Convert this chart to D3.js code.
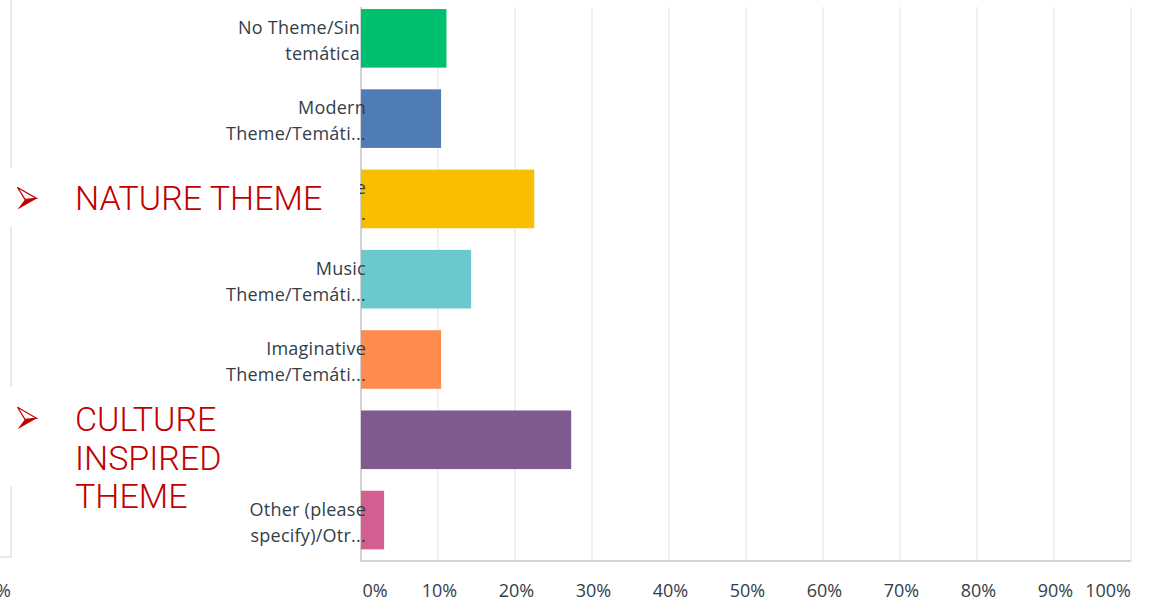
<!DOCTYPE html>
<html>
<head>
<meta charset="utf-8">
<script src="https://cdn.jsdelivr.net/npm/d3@7"></script>
<style>
  html, body { margin: 0; padding: 0; background: #ffffff; }
  svg { display: block; }
</style>
</head>
<body>
<svg id="chart" width="1150" height="600"></svg>
<script>
// ---- data ----
const categories = [
  "No Theme/Sin temática",
  "Modern Theme/Temática moderna",
  "Nature Theme/Temática de naturaleza",
  "Music Theme/Temática musical",
  "Imaginative Theme/Temática imaginativa",
  "Culture Inspired Theme",
  "Other (please specify)/Otra"
];
const labelLines = [
  ["No Theme/Sin", "temática"],
  ["Modern", "Theme/Temáti..."],
  ["Nature", "Theme/Temáti..."],
  ["Music", "Theme/Temáti..."],
  ["Imaginative", "Theme/Temáti..."],
  ["Culture Inspired", "Theme"],
  ["Other (please", "specify)/Otr..."]
];
const values = [11.1, 10.4, 22.5, 14.3, 10.4, 27.3, 3.0];
const colors = ["#00bf6f", "#507cb6", "#f9be00", "#6bc8cd", "#ff8b4f", "#7f5a8f", "#d25f90"];
const tickValues = [0, 10, 20, 30, 40, 50, 60, 70, 80, 90, 100];
const tickLabels = ["0%", "10%", "20%", "30%", "40%", "50%", "60%", "70%", "80%", "90%", "100%"];
const annotations = [
  { category: "Nature Theme/Temática de naturaleza", lines: ["NATURE THEME"] },
  { category: "Culture Inspired Theme", lines: ["CULTURE", "INSPIRED", "THEME"] }
];

// ---- layout ----
const svg = d3.select("#chart");
const x = d3.scaleLinear().domain([0, 100]).range([361, 1131]);
const y = d3.scaleBand().domain(categories).range([-1.8, 560.2])
  .paddingInner(0.27).paddingOuter(0.135);
const gridTop = 7, axisY = 561;
const textColor = "#333e48";
const font = "'Open Sans', sans-serif";

// left slide frame remnant
svg.append("path")
  .attr("d", `M11,0 V557 H0`)
  .attr("fill", "none").attr("stroke", "#e8e8e8").attr("stroke-width", 2);
svg.append("text")
  .attr("x", 11).attr("y", 597).attr("text-anchor", "end")
  .attr("font-family", font).attr("font-size", 18).attr("fill", textColor)
  .text("%");

// gridlines
svg.append("g").selectAll("line").data(tickValues.slice(1)).join("line")
  .attr("x1", d => x(d)).attr("x2", d => x(d))
  .attr("y1", gridTop).attr("y2", axisY)
  .attr("stroke", "#ececec").attr("stroke-width", 1.5);

// axis lines
svg.append("line").attr("x1", x(0)).attr("x2", x(0)).attr("y1", gridTop).attr("y2", axisY + 1)
  .attr("stroke", "#d3d3d3").attr("stroke-width", 2);
svg.append("line").attr("x1", x(0)).attr("x2", x(100)).attr("y1", axisY).attr("y2", axisY)
  .attr("stroke", "#d3d3d3").attr("stroke-width", 2);

// bars
svg.append("g").selectAll("rect").data(categories).join("rect")
  .attr("x", x(0))
  .attr("y", d => y(d))
  .attr("width", (d, i) => x(values[i]) - x(0))
  .attr("height", y.bandwidth())
  .attr("fill", (d, i) => colors[i]);

// x tick labels
svg.append("g").selectAll("text").data(tickValues).join("text")
  .attr("x", (d, i) => i === 0 ? x(d) + 1.5 : (i === tickValues.length - 1 ? x(d) : x(d) + 1.5))
  .attr("y", 597)
  .attr("text-anchor", (d, i) => i === 0 ? "start" : (i === tickValues.length - 1 ? "end" : "middle"))
  .attr("font-family", font).attr("font-size", 18).attr("fill", textColor)
  .text((d, i) => tickLabels[i]);

// category labels
const lab = svg.append("g").selectAll("text").data(categories).join("text")
  .attr("text-anchor", "end")
  .attr("font-family", font).attr("font-size", 18).attr("fill", textColor)
  .attr("letter-spacing", 0.25)
  .attr("transform", (d, i) => {
    const truncated = labelLines[i].some(s => s.endsWith("..."));
    const cx = truncated ? 366 : 360;
    return `translate(${cx},${y(d) + y.bandwidth() / 2})`;
  });
lab.selectAll("tspan").data((d, i) => labelLines[i]).join("tspan")
  .attr("x", 0)
  .attr("y", (d, j) => j === 0 ? -4.5 : 21.5)
  .text(d => d);

// annotation overlays
const ann = svg.append("g").selectAll("g").data(annotations).join("g")
  .attr("transform", d => `translate(0,${y(d.category) + y.bandwidth() / 2})`);
ann.append("rect")
  .attr("x", 0).attr("width", 360)
  .attr("y", d => d.lines.length > 1 ? -53 : -31)
  .attr("height", d => d.lines.length > 1 ? 100 : 59)
  .attr("fill", "#ffffff");
// arrow bullet
ann.each(function(d) {
  const g = d3.select(this);
  const oy = d.lines.length > 1 ? -21 : 0;
  const a = g.append("g").attr("transform", `translate(0,${oy})`);
  a.append("path").attr("d", "M17.5,-11.5 L36.5,-0.5 L25,0.5 Z")
    .attr("fill", "#ffffff").attr("stroke", "#c00000").attr("stroke-width", 1.2)
    .attr("stroke-linejoin", "miter");
  a.append("path").attr("d", "M25,0.5 L36.8,-0.5 L17.5,10.5 Z").attr("fill", "#c00000");
});
ann.append("text")
  .attr("font-family", "Roboto, sans-serif").attr("font-weight", 300)
  .attr("font-size", 34).attr("fill", "#c00000")
  .selectAll("tspan").data(d => d.lines.map((s, j) => ({ s, j, n: d.lines.length }))).join("tspan")
  .attr("x", 75)
  .attr("y", d => d.n > 1 ? -8.5 + d.j * 38.5 : 10.8)
  .text(d => d.s);
</script>
</body>
</html>
